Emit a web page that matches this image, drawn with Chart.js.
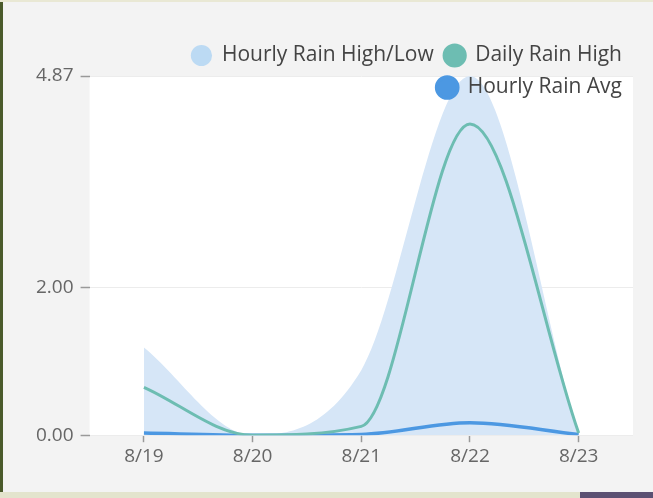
<!DOCTYPE html>
<html>
<head>
<meta charset="utf-8">
<script src="https://cdn.jsdelivr.net/npm/chart.js@4"></script>
<style>
  html, body { margin: 0; padding: 0; }
  body { width: 653px; height: 498px; position: relative; overflow: hidden; background: #4a5a2b; }
  #topEdge { position: absolute; left: 0; top: 0; right: 0; height: 2px; background: #e9e8d4; }
  #panel { position: absolute; left: 3px; top: 2px; right: 0; bottom: 6px; background: #f3f3f3; }
  #stripL { position: absolute; left: 0; bottom: 0; width: 580px; height: 6px; background: #e3e4cd; }
  #stripR { position: absolute; left: 580px; right: 0; bottom: 0; height: 6px; background: #5b5072; }
  #chart { position: absolute; left: 0; top: 0; }
</style>
</head>
<body>
<div id="topEdge"></div>
<div id="panel"></div>
<div id="stripL"></div>
<div id="stripR"></div>
<canvas id="chart" width="653" height="498"></canvas>
<script>
const days = ["8/19", "8/20", "8/21", "8/22", "8/23"];
const hourlyHigh = [1.19, 0.0, 0.88, 4.87, 0.03];
const hourlyLow = [0, 0, 0, 0, 0];
const dailyHigh = [0.65, 0.0, 0.12, 4.22, 0.03];
const hourlyAvg = [0.03, 0.0, 0.01, 0.17, 0.01];
const yTicks = [0, 2, 4.87];

const FONT = "'Open Sans', 'Noto Sans', sans-serif";

// white plot background, the rest of the card stays grey
const areaBg = {
    id: "areaBg",
    beforeDraw(chart) {
        const { ctx, chartArea: a } = chart;
        ctx.save();
        ctx.fillStyle = "#ffffff";
        ctx.fillRect(a.left, a.top, a.right - a.left, a.bottom - a.top);
        ctx.restore();
    }
};

// legend is drawn above the datasets and not clipped,
// so its second row can sit inside the plot like in the original
const legendOnTop = {
    id: "legendOnTop",
    afterInit(chart) {
        const legend = chart.legend;
        if (legend) {
            legend._layers = () => [{ z: 1, draw: () => legend._draw() }];
        }
    }
};

const config = {
    type: "line",
    data: {
        labels: days,
        datasets: [
            {
                label: "Hourly Rain High/Low",
                data: hourlyHigh,
                backgroundColor: "#bcdaf3",
                borderColor: "#bcdaf3",
                borderWidth: 0,
                fill: { target: "+1", above: "#d6e6f7", below: "#d6e6f7" }
            },
            {
                label: "",
                data: hourlyLow,
                borderWidth: 0,
                fill: false
            },
            {
                label: "Daily Rain High",
                data: dailyHigh,
                backgroundColor: "#6dbdb2",
                borderColor: "#6dbdb2",
                borderWidth: 3,
                fill: false
            },
            {
                label: "Hourly Rain Avg",
                data: hourlyAvg,
                backgroundColor: "#4c98e2",
                borderColor: "#4c98e2",
                borderWidth: 3.5,
                fill: false
            }
        ]
    },
    options: {
        responsive: false,
        animation: false,
        layout: { padding: { top: 34, right: 20, bottom: 27, left: 29 } },
        elements: {
            point: { radius: 0, hoverRadius: 0 },
            line: { cubicInterpolationMode: "monotone" }
        },
        plugins: {
            filler: { drawTime: "beforeDatasetsDraw" },
            tooltip: { enabled: false },
            legend: {
                position: "top",
                align: "end",
                maxHeight: 42,
                labels: {
                    usePointStyle: true,
                    pointStyle: "circle",
                    boxWidth: 20,
                    boxHeight: 15,
                    padding: 11,
                    color: "#444",
                    font: { family: FONT, size: 21 },
                    filter: (item) => item.text !== ""
                }
            }
        },
        scales: {
            x: {
                offset: true,
                grid: { drawOnChartArea: false, tickLength: 7, tickColor: "#999", tickWidth: 1.5 },
                border: { display: false },
                ticks: { color: "#666", padding: 3, font: { family: FONT, size: 19 } }
            },
            y: {
                min: 0,
                max: 4.87,
                afterBuildTicks: (scale) => {
                    scale.ticks = yTicks.map((v) => ({ value: v }));
                },
                grid: { color: "#ececec", tickLength: 9, tickColor: "#999", tickWidth: 1.5 },
                border: { display: false },
                ticks: {
                    color: "#666",
                    padding: 7,
                    font: { family: FONT, size: 19 },
                    callback: (v) => Number(v).toFixed(2)
                }
            }
        }
    },
    plugins: [areaBg, legendOnTop]
};

const myChart = new Chart(document.getElementById("chart"), config);
</script>
</body>
</html>
